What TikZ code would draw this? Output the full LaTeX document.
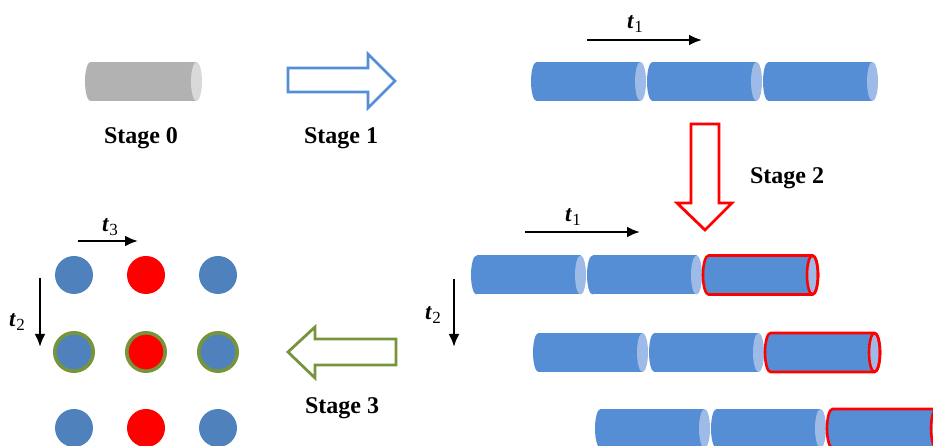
\documentclass[tikz,border=0pt]{standalone}
\usepackage{fontspec}
\setmainfont{Liberation Serif}
\usetikzlibrary{arrows.meta}

\definecolor{rodblue}{HTML}{558ED5}
\definecolor{rodblueend}{HTML}{9DBBE6}
\definecolor{rodgray}{HTML}{B2B2B2}
\definecolor{rodgrayend}{HTML}{D9D9D9}
\definecolor{dotblue}{HTML}{4F81BD}
\definecolor{ringgreen}{HTML}{77933C}
\definecolor{pure red}{HTML}{FF0000}

% rod: #1 left x, #2 centre height, #3 length, #4 body colour, #5 end colour
\newcommand\rod[5]{%
  \fill[#4] (#1+5.5,#2) ellipse[x radius=5.5,y radius=19.5];
  \fill[#4] (#1+5.5,#2-19.5) rectangle (#1+#3-5.5,#2+19.5);
  \fill[#5] (#1+#3-5.5,#2) ellipse[x radius=5.5,y radius=19.5];
}
% rod with a red outline
\newcommand\redrod[2]{%
  \rod{#1}{#2}{115}{rodblue}{rodblueend}
  \draw[redline] (#1+5.5,#2+19.5) -- (#1+109.5,#2+19.5)
    arc[start angle=90,end angle=-90,x radius=5.5,y radius=19.5]
    -- (#1+5.5,#2-19.5)
    arc[start angle=270,end angle=90,x radius=5.5,y radius=19.5] -- cycle;
  \draw[redline] (#1+109.5,#2) ellipse[x radius=5.5,y radius=19.5];
}
% time symbol with its index
\newcommand\tsym[1]{\textbf{\textit{t}}\kern0.5pt\raisebox{-0.32ex}{\fontsize{17}{17}\selectfont #1}}

\tikzset{
  redline/.style={draw=pure red, line width=2.6pt, line join=round},
  stagelabel/.style={font=\fontsize{24}{28}\selectfont\bfseries, inner sep=0pt},
  tlabel/.style={font=\fontsize{23}{26}\selectfont, inner sep=0pt},
  timearrow/.style={line width=2.4pt, -{Latex[length=13pt,width=11pt]}},
  blockarrow/.style={line width=2.8pt, line join=miter, fill=white},
}

\begin{document}
\begin{tikzpicture}[x=1pt,y=1pt]
\useasboundingbox (0,0) rectangle (933,446);
\clip (0,0) rectangle (933,446);

% stage 0: a single grey rod
\rod{85}{364.5}{117}{rodgray}{rodgrayend}
\node[stagelabel] (s0) at (141,308) {Stage 0};

% stage 1 arrow
\draw[blockarrow, draw=rodblue] (288,378) -- (368,378) -- (368,392) -- (395,365)
  -- (368,338) -- (368,354) -- (288,354) -- cycle;
\node[stagelabel] (s1) at (341,308) {Stage 1};

% top row of rods
\rod{531}{364.5}{115}{rodblue}{rodblueend}
\rod{647}{364.5}{115}{rodblue}{rodblueend}
\rod{763}{364.5}{115}{rodblue}{rodblueend}
\coordinate (ta1) at (587,406);
\coordinate (tb1) at (702,406);
\draw[timearrow] (ta1) -- (tb1);
\node[tlabel] (t1top) at (635,422) {\tsym{1}};

% stage 2 arrow
\draw[blockarrow, draw=pure red] (691,322) -- (719,322) -- (719,243) -- (732,243)
  -- (705,216) -- (677,243) -- (691,243) -- cycle;
\node[stagelabel] (s2) at (787,268) {Stage 2};

% staggered rows of rods
\rod{471}{171}{115}{rodblue}{rodblueend}
\rod{587}{171}{115}{rodblue}{rodblueend}
\redrod{703}{171}
\rod{533}{93.5}{115}{rodblue}{rodblueend}
\rod{649}{93.5}{115}{rodblue}{rodblueend}
\redrod{765}{93.5}
\rod{595}{17.5}{115}{rodblue}{rodblueend}
\rod{711}{17.5}{115}{rodblue}{rodblueend}
\redrod{827}{17.5}

\coordinate (ua1) at (525,214);
\coordinate (ub1) at (640,214);
\draw[timearrow] (ua1) -- (ub1);
\node[tlabel] (t1low) at (573,229) {\tsym{1}};
\coordinate (ua2) at (454,167);
\coordinate (ub2) at (454,99);
\draw[timearrow] (ua2) -- (ub2);
\node[tlabel] (t2right) at (433,131) {\tsym{2}};

% stage 3 arrow
\draw[blockarrow, draw=ringgreen] (288,94) -- (315,119) -- (315,107) -- (396,107)
  -- (396,81) -- (315,81) -- (315,68) -- cycle;
\node[stagelabel] (s3) at (342,38) {Stage 3};

% grid of cross-sections
\foreach \cx/\col in {74/dotblue,146/pure red,218/dotblue}{
  \fill[\col] (\cx,171) circle[radius=19];
  \filldraw[fill=\col, draw=ringgreen, line width=3.6pt] (\cx,94) circle[radius=19.2];
  \fill[\col] (\cx,18) circle[radius=19];
}
\coordinate (va3) at (78,205);
\coordinate (vb3) at (138,205);
\draw[timearrow] (va3) -- (vb3);
\node[tlabel] (t3) at (110,219) {\tsym{3}};
\coordinate (va2) at (40,168);
\coordinate (vb2) at (40,99);
\draw[timearrow] (va2) -- (vb2);
\node[tlabel] (t2left) at (17,124) {\tsym{2}};
\end{tikzpicture}
\end{document}
